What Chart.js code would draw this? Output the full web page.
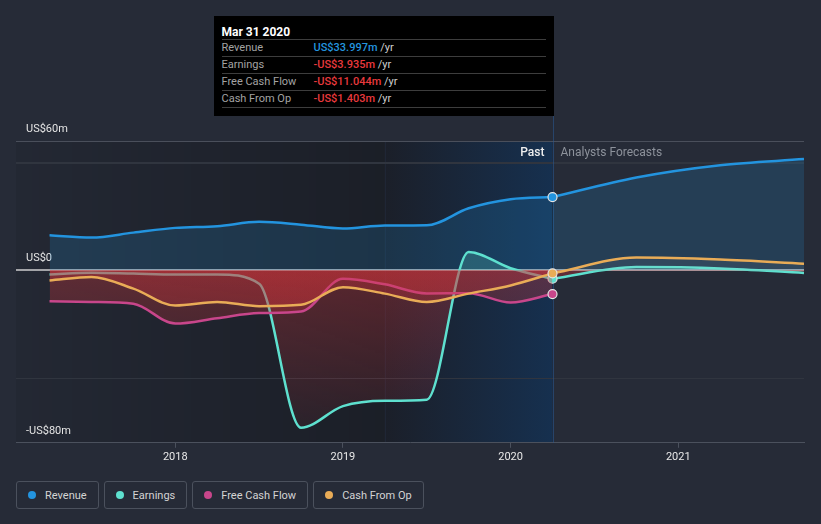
<!DOCTYPE html>
<html>
<head>
<meta charset="utf-8">
<script src="https://cdn.jsdelivr.net/npm/chart.js@4.4.1/dist/chart.umd.min.js"></script>
<style>
  html, body { margin: 0; padding: 0; background: #262b37; }
  body { width: 821px; height: 524px; position: relative; overflow: hidden; font-family: Roboto, "Noto Sans", sans-serif; }
  #chart { position: absolute; left: 0; top: 0; }
  #tip { position: absolute; top: 16px; left: 214px; width: 340px; height: 100px; background: #000; box-sizing: border-box; padding: 0 8px; color: #a3a3a3; font-size: 11px; }
  #tip .ttl { height: 24px; line-height: 18px; padding-top: 7px; box-sizing: border-box; color: #fff; font-weight: bold; font-size: 12px; border-bottom: 1px solid #3d3d3d; }
  #tip .row { height: 17px; line-height: 16px; border-bottom: 1px solid #3d3d3d; box-sizing: border-box; white-space: nowrap; }
  #tip .lab { display: inline-block; width: 92px; }
  #tip .val { font-weight: 500; }
  #tip .yr { color: #d0d0d0; }
  #legend { position: absolute; left: 16px; top: 481px; display: flex; gap: 5px; }
  #legend .item { height: 28px; box-sizing: border-box; border: 1px solid #4b515d; border-radius: 3px; padding: 0 11px 0 11px; display: flex; align-items: center; color: #d4d4d4; font-size: 11px; }
  #legend .dot { width: 8px; height: 8px; border-radius: 50%; margin-right: 9px; }
</style>
</head>
<body>
<canvas id="chart" width="821" height="470"></canvas>
<div id="tip"></div>
<div id="legend"></div>
<script>
// quarter ends, as decimal years
var pastDates = [2017.25, 2017.5, 2017.75, 2018, 2018.25, 2018.5, 2018.75, 2019, 2019.25, 2019.5, 2019.75, 2020, 2020.25];
var forecastDates = [2020.25, 2020.75, 2021.25, 2021.75];

// US$ millions
var revenuePast = [16.3, 15.2, 17.5, 19.7, 20.5, 22.5, 21.2, 19.4, 20.8, 20.9, 28.8, 33.0, 34.0];
var revenueForecast = [34.0, 43.1, 48.8, 51.6];
var earningsPast = [-1.9, -1.1, -1.5, -1.9, -1.9, -6.2, -73, -63, -60.5, -60, 8.5, 1.0, -3.9];
var earningsForecast = [-3.9, 1.5, 0.9, -1.2];
var fcfPast = [-14.3, -14.7, -15.5, -24.7, -22.2, -19.8, -19.1, -3.9, -6.5, -10.7, -10.6, -14.9, -11.0];
var cfoPast = [-4.7, -3.1, -8.5, -16.3, -14.7, -16.6, -16.0, -7.8, -10.8, -14.7, -10.8, -7.0, -1.4];
var cfoForecast = [-1.4, 5.9, 5.0, 3.1];

var seriesNames = ["Revenue", "Earnings", "Free Cash Flow", "Cash From Op"];
var seriesColors = ["#2394df", "#5ee0cf", "#c8468b", "#e9ac57"];

var xTicks = [2018, 2019, 2020, 2021];
var yTicks = [-80, -50, 0, 50, 60];
var yTickLabels = { "60": "US$60m", "0": "US$0", "-80": "-US$80m" };

var highlightStart = 2019.25;
var pastEnd = 2020.25;

var tipTitle = "Mar 31 2020";
var tipValues = ["US$33.997m", "-US$3.935m", "-US$11.044m", "-US$1.403m"];

// tooltip box
var tip = document.getElementById("tip");
var html = '<div class="ttl">' + tipTitle + '</div>';
for (var i = 0; i < seriesNames.length; i++) {
  var c = tipValues[i].charAt(0) === "-" ? "#e8393d" : "#2394df";
  html += '<div class="row"><span class="lab">' + seriesNames[i] + '</span><span class="val" style="color:' + c + '">' +
    tipValues[i] + '</span> <span class="yr">/yr</span></div>';
}
tip.innerHTML = html;

// legend
var legend = document.getElementById("legend");
for (var j = 0; j < seriesNames.length; j++) {
  legend.innerHTML += '<div class="item"><span class="dot" style="background:' + seriesColors[j] + '"></span>' + seriesNames[j] + '</div>';
}

function pts(dates, values) {
  return dates.map(function (d, k) { return { x: d, y: values[k] }; });
}

// fill to zero, red gradient below
function zeroFill(above) {
  return function (c) {
    var chart = c.chart;
    var a = chart.chartArea;
    if (!a || !chart.scales.y) return { target: "origin", above: above, below: "rgba(205,52,58,0.25)" };
    var y0 = chart.scales.y.getPixelForValue(0);
    var g = chart.ctx.createLinearGradient(0, y0, 0, a.bottom);
    g.addColorStop(0, "rgba(210,52,58,0.34)");
    g.addColorStop(1, "rgba(210,52,58,0.05)");
    return { target: "origin", above: above, below: g };
  };
}

function lastDot(c) {
  return c.dataIndex === c.dataset.data.length - 1 ? 4.5 : 0;
}

function line(name, data, color, order, above, dot) {
  return {
    label: name,
    data: data,
    borderColor: color,
    backgroundColor: color,
    borderWidth: 2.5,
    order: order,
    fill: zeroFill(above),
    cubicInterpolationMode: "monotone",
    pointRadius: dot ? lastDot : 0,
    pointBackgroundColor: color,
    pointBorderColor: "#e4e4e4",
    pointBorderWidth: 1.2
  };
}

var revFill = "rgba(35,148,223,0.18)";
var datasets = [
  line("Revenue", pts(pastDates, revenuePast), seriesColors[0], 4, revFill, true),
  line("Revenue forecast", pts(forecastDates, revenueForecast), seriesColors[0], 4, revFill, false),
  line("Earnings", pts(pastDates, earningsPast), seriesColors[1], 3, "rgba(94,224,207,0.22)", true),
  line("Earnings forecast", pts(forecastDates, earningsForecast), seriesColors[1], 3, "rgba(94,224,207,0.06)", false),
  line("Free Cash Flow", pts(pastDates, fcfPast), seriesColors[2], 2, "rgba(0,0,0,0)", true),
  line("Cash From Op", pts(pastDates, cfoPast), seriesColors[3], 1, "rgba(0,0,0,0)", true),
  line("Cash From Op forecast", pts(forecastDates, cfoForecast), seriesColors[3], 1, "rgba(200,200,210,0.08)", false)
];

// plot backdrop: dark past area, blue last-year band
var backdrop = {
  id: "backdrop",
  beforeDraw: function (chart) {
    var ctx = chart.ctx, a = chart.chartArea, x = chart.scales.x;
    var xs = x.getPixelForValue(highlightStart);
    var xe = x.getPixelForValue(pastEnd);
    ctx.save();
    var g1 = ctx.createLinearGradient(a.left, 0, xs, 0);
    g1.addColorStop(0, "rgba(0,0,0,0.06)");
    g1.addColorStop(1, "rgba(0,0,0,0.28)");
    ctx.fillStyle = g1;
    ctx.fillRect(a.left, a.top, xs - a.left, a.bottom - a.top);
    var g2 = ctx.createLinearGradient(xs, 0, xe, 0);
    g2.addColorStop(0, "#1b1f29");
    g2.addColorStop(1, "#16304f");
    ctx.fillStyle = g2;
    ctx.fillRect(xs, a.top, xe - xs, a.bottom - a.top);
    ctx.strokeStyle = "rgba(50,70,110,0.18)";
    ctx.lineWidth = 1;
    ctx.beginPath();
    ctx.moveTo(Math.round(xs) + 0.5, a.top);
    ctx.lineTo(Math.round(xs) + 0.5, a.bottom);
    ctx.stroke();
    ctx.restore();
  },
  beforeDatasetsDraw: function (chart) {
    var ctx = chart.ctx, a = chart.chartArea;
    var xe = chart.scales.x.getPixelForValue(pastEnd);
    var top = tip.offsetTop + tip.offsetHeight;
    ctx.save();
    ctx.strokeStyle = "rgba(40,90,150,0.55)";
    ctx.lineWidth = 1;
    ctx.beginPath();
    ctx.moveTo(Math.round(xe) + 0.5, top);
    ctx.lineTo(Math.round(xe) + 0.5, a.bottom);
    ctx.stroke();
    ctx.restore();
  },
  afterDraw: function (chart) {
    var ctx = chart.ctx, a = chart.chartArea;
    var xe = chart.scales.x.getPixelForValue(pastEnd);
    ctx.save();
    ctx.font = "500 12px Roboto";
    ctx.textBaseline = "middle";
    ctx.textAlign = "right";
    ctx.fillStyle = "#eeeeee";
    ctx.fillText("Past", xe - 8, a.top + 12);
    ctx.textAlign = "left";
    ctx.font = "12px Roboto";
    ctx.fillStyle = "#8d929b";
    ctx.fillText("Analysts Forecasts", xe + 8, a.top + 12);
    ctx.restore();
    tip.style.left = (xe + 1 - tip.offsetWidth) + "px";
  }
};

new Chart(document.getElementById("chart"), {
  type: "line",
  data: { datasets: datasets },
  plugins: [backdrop],
  options: {
    responsive: false,
    animation: false,
    layout: { padding: { left: 16, right: 17, top: 141, bottom: 3 } },
    plugins: { legend: { display: false }, tooltip: { enabled: false } },
    scales: {
      x: {
        type: "linear",
        min: 2017.05,
        max: 2021.75,
        afterBuildTicks: function (s) { s.ticks = xTicks.map(function (v) { return { value: v }; }); },
        ticks: { color: "#e8e8e8", font: { family: "Roboto", size: 11 }, padding: 3, callback: function (v) { return String(v); } },
        grid: { drawOnChartArea: false, drawTicks: true, tickLength: 5, color: "#4b515d" },
        border: { color: "#4b515d", width: 1 }
      },
      y: {
        min: -80,
        max: 60,
        afterFit: function (s) { s.width = 0; },
        afterBuildTicks: function (s) { s.ticks = yTicks.map(function (v) { return { value: v }; }); },
        ticks: {
          mirror: true,
          padding: 10,
          labelOffset: -12,
          color: "#e4e4e4",
          font: { family: "Roboto", size: 11 },
          callback: function (v) { return yTickLabels[String(v)] || ""; }
        },
        grid: {
          drawTicks: false,
          color: function (c) {
            var v = c.tick.value;
            if (v === 0) return "#a3a4a8";
            if (v === 60) return "#4a4f5b";
            if (v === -80) return "rgba(0,0,0,0)";
            return "#30353f";
          },
          lineWidth: function (c) {
            var v = c.tick.value;
            return v === 0 || v === 50 ? 2 : 1;
          }
        },
        border: { display: false }
      }
    }
  }
});
</script>
</body>
</html>
